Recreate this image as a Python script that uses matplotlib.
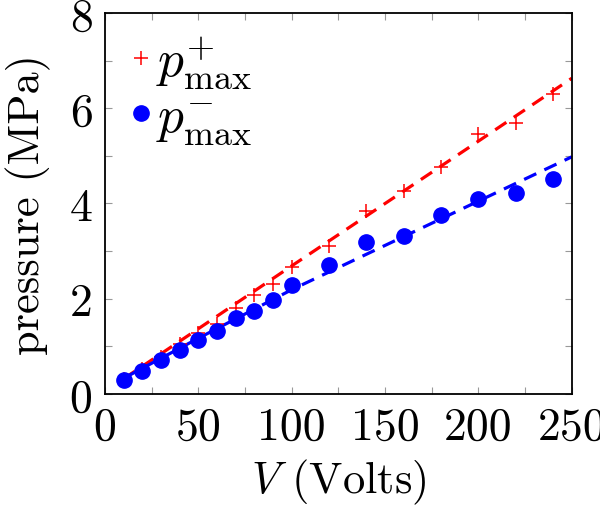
import numpy as np
import matplotlib
matplotlib.use('Agg')
import matplotlib.pyplot as plt

plt.rcParams['font.family'] = 'cmr10'
plt.rcParams['mathtext.fontset'] = 'cm'
plt.rcParams['axes.formatter.use_mathtext'] = True

volts = [10, 20, 30, 40, 50, 60, 70, 80, 90, 100, 120, 140, 160, 180, 200, 220, 240]
p_plus = [0.31, 0.52, 0.78, 1.06, 1.29, 1.48, 1.80, 2.07, 2.31, 2.66,
          3.10, 3.85, 4.27, 4.76, 5.46, 5.69, 6.29]
p_minus = [0.30, 0.49, 0.71, 0.92, 1.13, 1.33, 1.59, 1.74, 1.97, 2.28,
           2.70, 3.19, 3.31, 3.75, 4.10, 4.22, 4.52]

# fitted curves (dashed), sampled from the figure
fit_v = [10, 50, 100, 150, 200, 250]
fit_plus = [0.32, 1.37, 2.69, 4.00, 5.31, 6.63]
fit_minus = [0.33, 1.17, 2.19, 3.12, 4.05, 4.98]

xticks = [0, 50, 100, 150, 200, 250]
yticks = [0, 2, 4, 6, 8]

fig = plt.figure(figsize=(6.0, 5.06), dpi=100)
ax = fig.add_axes([0.175, 0.2194, 0.778, 0.7529])

ax.plot(fit_v, fit_plus, color='#ff0000', linestyle=(0, (4.2, 2.8)), linewidth=2.3)
ax.plot(fit_v, fit_minus, color='#0000ff', linestyle=(0, (4.2, 2.8)), linewidth=2.3)
ax.plot(volts, p_plus, linestyle='none', marker='+', color='#ff0000',
        markersize=10, markeredgewidth=1.1, label=r'$p^{+}_{\max}$')
ax.plot(volts, p_minus, linestyle='none', marker='o', color='#0000ff',
        markersize=11, label=r'$p^{-}_{\max}$')

ax.set_xlim(0, 250)
ax.set_ylim(0, 8)
ax.set_xticks(xticks)
ax.set_yticks(yticks)
ax.set_xticks(np.arange(25, 250, 50), minor=True)
ax.set_yticks(np.arange(1, 8, 2), minor=True)
ax.set_xticklabels([str(t) for t in xticks])
ax.set_yticklabels([str(t) for t in yticks])

for which in ('major', 'minor'):
    ax.tick_params(axis='both', which=which, direction='in', top=True, right=True,
                   length=5, width=0.8, color='#999999', labelsize=33, pad=9)

for sp in ax.spines.values():
    sp.set_linewidth(1.3)

ax.set_xlabel(r'$V$ (Volts)', fontsize=32, labelpad=6)
ax.set_ylabel('pressure (MPa)', fontsize=32, labelpad=13)

ax.legend(loc='upper left', bbox_to_anchor=(0.0, 1.0), frameon=False, fontsize=37,
          handlelength=0.6, handletextpad=0.0, borderaxespad=0.1,
          labelspacing=0.08, borderpad=0.3)

fig.savefig('out.png', dpi=100)
